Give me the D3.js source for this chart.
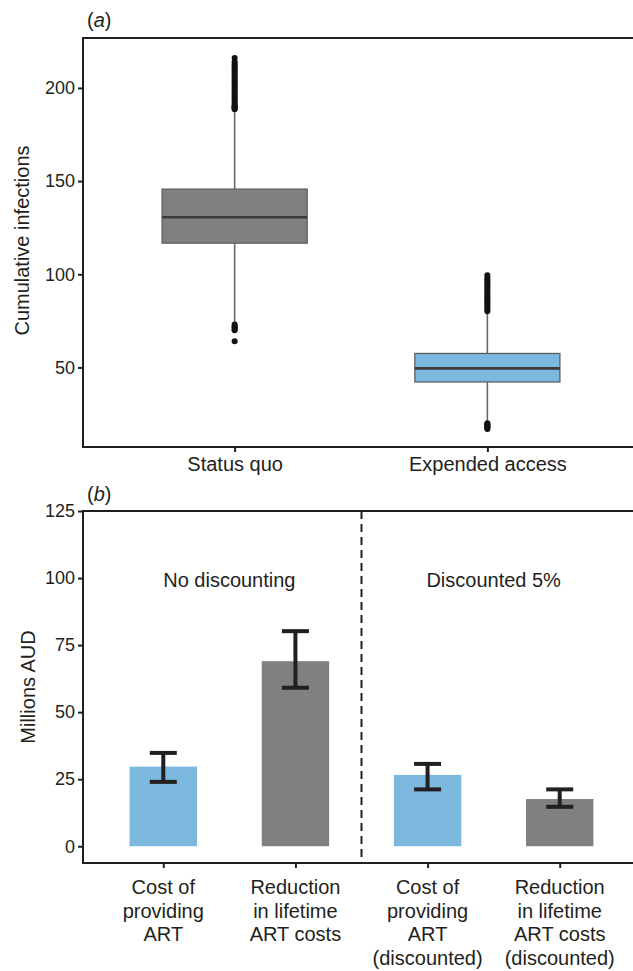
<!DOCTYPE html>
<html>
<head>
<meta charset="utf-8">
<script src="https://cdn.jsdelivr.net/npm/d3@7"></script>
<style>
  html, body { margin: 0; padding: 0; background: #ffffff; }
  svg { display: block; }
  text { font-family: "Liberation Sans", Arial, Helvetica, sans-serif; fill: #231f20; }
</style>
</head>
<body>
<svg id="chart" width="633" height="971"></svg>
<script>
// ---------- Panel (a) data ----------
const boxCategories = ["Status quo", "Expended access"];
const boxQ1 = [116.7, 42.2];
const boxMedian = [130.6, 49.5];
const boxQ3 = [145.7, 57.5];
const whiskerLow = [73.7, 20.5];
const whiskerHigh = [188.0, 79.8];
const outliersStatusQuo = [188.5, 189, 189.5, 190, 190.5, 191, 192, 193, 194, 195, 196, 197, 198, 199, 200, 201, 202, 203, 204, 205, 206, 207, 208, 209, 210, 211, 212, 213, 214, 216, 73, 72, 71.5, 70.5, 70, 64];
const outliersExpended = [80.2, 81, 82, 83, 84, 85, 86, 87, 88, 89, 90, 91, 92, 93, 94, 95, 96, 97, 98, 99.5, 20, 19.5, 19, 18.5, 18, 17.5, 17];
const boxTicks = [50, 100, 150, 200];
const boxColors = ["#808080", "#7db9de"];

// ---------- Panel (b) data ----------
const barCategories = [
  ["Cost of", "providing", "ART"],
  ["Reduction", "in lifetime", "ART costs"],
  ["Cost of", "providing", "ART", "(discounted)"],
  ["Reduction", "in lifetime", "ART costs", "(discounted)"]
];
const barValues = [29.7, 69.0, 26.6, 17.6];
const barLow = [24.0, 59.1, 21.2, 14.7];
const barHigh = [34.8, 80.2, 30.7, 21.2];
const barColors = ["#7db9de", "#808080", "#7db9de", "#808080"];
const barTicks = [0, 25, 50, 75, 100, 125];
const groupLabels = ["No discounting", "Discounted 5%"];

const svg = d3.select("#chart");
const ink = "#231f20";
const left = 83, right = 639;
const bigFont = 20, tickFont = 18;

// ================= Panel (a) =================
const aTop = 38, aBottom = 447;
const ya = d3.scaleLinear().domain([7.3, 226.8]).range([aBottom, aTop]);
const xa = d3.scalePoint().domain(boxCategories).range([left, right]).padding(0.6);
const boxW = xa.step() * 0.574;

const ga = svg.append("g");
boxCategories.forEach((c, i) => {
  const cx = xa(c);
  ga.append("line").attr("x1", cx).attr("x2", cx)
    .attr("y1", ya(boxQ3[i])).attr("y2", ya(whiskerHigh[i]))
    .attr("stroke", "#6b6b6b").attr("stroke-width", 1.6);
  ga.append("line").attr("x1", cx).attr("x2", cx)
    .attr("y1", ya(boxQ1[i])).attr("y2", ya(whiskerLow[i]))
    .attr("stroke", "#6b6b6b").attr("stroke-width", 1.6);
  ga.append("rect").attr("x", cx - boxW / 2).attr("width", boxW)
    .attr("y", ya(boxQ3[i])).attr("height", ya(boxQ1[i]) - ya(boxQ3[i]))
    .attr("fill", boxColors[i]).attr("stroke", "#5e5e5e").attr("stroke-width", 1.3);
  ga.append("line").attr("x1", cx - boxW / 2).attr("x2", cx + boxW / 2)
    .attr("y1", ya(boxMedian[i])).attr("y2", ya(boxMedian[i]))
    .attr("stroke", "#3a3a3a").attr("stroke-width", 2.6);
});
ga.selectAll("circle.o1").data(outliersStatusQuo).enter().append("circle")
  .attr("cx", xa(boxCategories[0])).attr("cy", d => ya(d)).attr("r", 3)
  .attr("fill", "#111");
ga.selectAll("circle.o2").data(outliersExpended).enter().append("circle")
  .attr("cx", xa(boxCategories[1])).attr("cy", d => ya(d)).attr("r", 3)
  .attr("fill", "#111");

ga.append("line").attr("x1", left).attr("x2", right).attr("y1", aTop).attr("y2", aTop)
  .attr("stroke", ink).attr("stroke-width", 2);
const axA = ga.append("g").attr("transform", `translate(${left},0)`)
  .call(d3.axisLeft(ya).tickValues(boxTicks).tickSize(5).tickPadding(3).tickFormat(d3.format("d")));
axA.select(".domain").remove();
axA.append("line").attr("x1", 0).attr("x2", 0).attr("y1", aTop - 1).attr("y2", aBottom + 1)
  .attr("stroke", ink).attr("stroke-width", 2);
axA.selectAll(".tick line").attr("stroke", ink).attr("stroke-width", 2);
axA.selectAll(".tick text").attr("font-size", tickFont).attr("fill", ink)
  .style("font-family", "'Liberation Sans', Arial, sans-serif");

const axAb = ga.append("g").attr("transform", `translate(0,${aBottom})`)
  .call(d3.axisBottom(xa).tickSize(5).tickPadding(5));
axAb.select(".domain").remove();
axAb.append("line").attr("x1", left - 1).attr("x2", right).attr("y1", 0).attr("y2", 0)
  .attr("stroke", ink).attr("stroke-width", 2);
axAb.selectAll(".tick line").attr("stroke", ink).attr("stroke-width", 2);
axAb.selectAll(".tick text").attr("font-size", bigFont).attr("fill", ink)
  .style("font-family", "'Liberation Sans', Arial, sans-serif");

ga.append("text").attr("transform", `translate(29,${(aTop + aBottom) / 2 - 2}) rotate(-90)`)
  .attr("text-anchor", "middle").attr("font-size", bigFont).text("Cumulative infections");
const la = ga.append("text").attr("x", 87).attr("y", 27).attr("font-size", bigFont);
la.append("tspan").text("(");
la.append("tspan").attr("font-style", "italic").text("a");
la.append("tspan").text(")");

// ================= Panel (b) =================
const bTop = 511, bBottom = 863;
const yb = d3.scaleLinear().domain([-6.25, 125]).range([bBottom, bTop]);
const bKeys = barCategories.map((d, i) => "c" + i);
const xb = d3.scalePoint().domain(bKeys).range([left + 1, right]).padding(0.6);
const barW = xb.step() * 0.51;
const capW = 27;

const gb = svg.append("g");
const sepX = (xb(bKeys[1]) + xb(bKeys[2])) / 2;
gb.append("line").attr("x1", sepX).attr("x2", sepX).attr("y1", bTop).attr("y2", bBottom)
  .attr("stroke", ink).attr("stroke-width", 2).attr("stroke-dasharray", "8,5");

gb.selectAll("rect.bar").data(barValues).enter().append("rect")
  .attr("x", (d, i) => xb(bKeys[i]) - barW / 2).attr("width", barW)
  .attr("y", d => yb(d)).attr("height", d => yb(0) - yb(d))
  .attr("fill", (d, i) => barColors[i]);

barValues.forEach((v, i) => {
  const cx = xb(bKeys[i]);
  gb.append("line").attr("x1", cx).attr("x2", cx).attr("y1", yb(barLow[i])).attr("y2", yb(barHigh[i]))
    .attr("stroke", ink).attr("stroke-width", 4);
  [barLow[i], barHigh[i]].forEach(e => {
    gb.append("line").attr("x1", cx - capW / 2).attr("x2", cx + capW / 2)
      .attr("y1", yb(e)).attr("y2", yb(e)).attr("stroke", ink).attr("stroke-width", 4);
  });
});

gb.append("text").attr("x", (xb(bKeys[0]) + xb(bKeys[1])) / 2).attr("y", 587)
  .attr("text-anchor", "middle").attr("font-size", bigFont).text(groupLabels[0]);
gb.append("text").attr("x", (xb(bKeys[2]) + xb(bKeys[3])) / 2).attr("y", 587)
  .attr("text-anchor", "middle").attr("font-size", bigFont).text(groupLabels[1]);

gb.append("line").attr("x1", left).attr("x2", right).attr("y1", bTop).attr("y2", bTop)
  .attr("stroke", ink).attr("stroke-width", 2);
const axB = gb.append("g").attr("transform", `translate(${left},0)`)
  .call(d3.axisLeft(yb).tickValues(barTicks).tickSize(5).tickPadding(3).tickFormat(d3.format("d")));
axB.select(".domain").remove();
axB.append("line").attr("x1", 0).attr("x2", 0).attr("y1", bTop - 1).attr("y2", bBottom + 1)
  .attr("stroke", ink).attr("stroke-width", 2);
axB.selectAll(".tick line").attr("stroke", ink).attr("stroke-width", 2);
axB.selectAll(".tick text").attr("font-size", tickFont).attr("fill", ink)
  .style("font-family", "'Liberation Sans', Arial, sans-serif");

const axBb = gb.append("g").attr("transform", `translate(0,${bBottom})`)
  .call(d3.axisBottom(xb).tickSize(5).tickFormat(() => ""));
axBb.select(".domain").remove();
axBb.append("line").attr("x1", left - 1).attr("x2", right).attr("y1", 0).attr("y2", 0)
  .attr("stroke", ink).attr("stroke-width", 2);
axBb.selectAll(".tick line").attr("stroke", ink).attr("stroke-width", 2);
barCategories.forEach((lines, i) => {
  const t = gb.append("text").attr("x", xb(bKeys[i])).attr("y", 894)
    .attr("text-anchor", "middle").attr("font-size", bigFont);
  lines.forEach((ln, j) => {
    t.append("tspan").attr("x", xb(bKeys[i])).attr("y", 894 + j * 23.6).text(ln);
  });
});

gb.append("text").attr("transform", `translate(35,${(bTop + bBottom) / 2}) rotate(-90)`)
  .attr("text-anchor", "middle").attr("font-size", bigFont).text("Millions AUD");
const lb = gb.append("text").attr("x", 87).attr("y", 501).attr("font-size", bigFont);
lb.append("tspan").text("(");
lb.append("tspan").attr("font-style", "italic").text("b");
lb.append("tspan").text(")");
</script>
</body>
</html>
